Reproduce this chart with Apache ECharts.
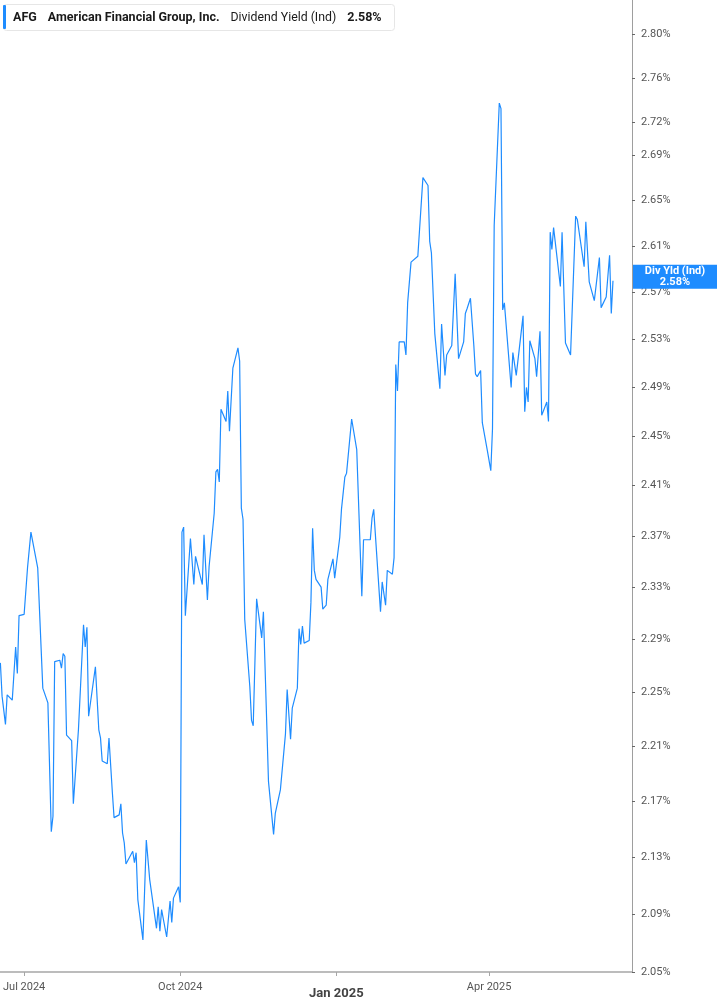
<!DOCTYPE html>
<html>
<head>
<meta charset="utf-8">
<script src="https://cdn.jsdelivr.net/npm/echarts@6/dist/echarts.min.js"></script>
<style>
html,body{margin:0;padding:0;background:#fff;}
#chart{width:717px;height:1005px;}
</style>
</head>
<body>
<div id="chart"></div>
<script>
const ticker = 'AFG';
const company = 'American Financial Group, Inc.';
const metric = 'Dividend Yield (Ind)';
const lastLabel = '2.58%';
const tagLabel = 'Div Yld (Ind)';

const dates = [
'2024-06-17','2024-06-18','2024-06-20','2024-06-21','2024-06-24','2024-06-26','2024-06-27','2024-06-28',
'2024-07-01','2024-07-02','2024-07-03','2024-07-05','2024-07-09','2024-07-12','2024-07-15','2024-07-17',
'2024-07-18','2024-07-19','2024-07-22','2024-07-23','2024-07-24','2024-07-25','2024-07-26','2024-07-29',
'2024-07-30','2024-07-31','2024-08-02','2024-08-05','2024-08-06','2024-08-07','2024-08-08','2024-08-09',
'2024-08-12','2024-08-14','2024-08-15','2024-08-16','2024-08-19','2024-08-20','2024-08-22','2024-08-23',
'2024-08-26','2024-08-27','2024-08-28','2024-08-29','2024-08-30','2024-09-03','2024-09-04','2024-09-05',
'2024-09-06','2024-09-09','2024-09-11','2024-09-13','2024-09-17','2024-09-18','2024-09-19','2024-09-20',
'2024-09-23','2024-09-25','2024-09-26','2024-09-27','2024-09-30','2024-10-01','2024-10-02','2024-10-03',
'2024-10-04','2024-10-07','2024-10-09','2024-10-10','2024-10-11','2024-10-14','2024-10-15','2024-10-16',
'2024-10-17','2024-10-18','2024-10-21','2024-10-22','2024-10-23','2024-10-24','2024-10-25','2024-10-28',
'2024-10-29','2024-10-30','2024-11-01','2024-11-04','2024-11-05','2024-11-06','2024-11-07','2024-11-08',
'2024-11-11','2024-11-12','2024-11-13','2024-11-15','2024-11-18','2024-11-19','2024-11-22','2024-11-25',
'2024-11-26','2024-11-27','2024-11-29','2024-12-02','2024-12-03','2024-12-05','2024-12-06','2024-12-09',
'2024-12-10','2024-12-11','2024-12-12','2024-12-13','2024-12-16','2024-12-17','2024-12-18','2024-12-19',
'2024-12-20','2024-12-23','2024-12-24','2024-12-26','2024-12-27','2024-12-30','2024-12-31','2025-01-03',
'2025-01-04','2025-01-06','2025-01-07','2025-01-08','2025-01-10','2025-01-13','2025-01-16','2025-01-17',
'2025-01-21','2025-01-22','2025-01-23','2025-01-27','2025-01-28','2025-01-30','2025-01-31','2025-02-03',
'2025-02-04','2025-02-05','2025-02-06','2025-02-07','2025-02-10','2025-02-11','2025-02-12','2025-02-14',
'2025-02-18','2025-02-21','2025-02-24','2025-02-25','2025-02-26','2025-02-28','2025-03-03','2025-03-04',
'2025-03-06','2025-03-07','2025-03-10','2025-03-12','2025-03-14','2025-03-17','2025-03-18','2025-03-19',
'2025-03-21','2025-03-23','2025-03-24','2025-03-25','2025-03-27','2025-03-28','2025-03-31','2025-04-02',
'2025-04-03','2025-04-04','2025-04-07','2025-04-08','2025-04-09','2025-04-10','2025-04-14','2025-04-15',
'2025-04-17','2025-04-21','2025-04-22','2025-04-23','2025-04-24','2025-04-25','2025-04-28','2025-04-29',
'2025-05-01','2025-05-02','2025-05-05','2025-05-06','2025-05-07','2025-05-08','2025-05-09','2025-05-13',
'2025-05-14','2025-05-16','2025-05-19','2025-05-22','2025-05-23','2025-05-27','2025-05-28','2025-05-30',
'2025-06-02','2025-06-05','2025-06-06','2025-06-09','2025-06-11','2025-06-12','2025-06-13'
];

const yields = [
2.272,2.247,2.226,2.248,2.244,2.284,2.264,2.308,
2.309,2.309,2.345,2.373,2.345,2.253,2.242,2.148,
2.159,2.273,2.274,2.268,2.279,2.277,2.218,2.214,
2.168,2.168,2.222,2.301,2.284,2.299,2.232,2.231,
2.269,2.222,2.216,2.199,2.197,2.216,2.176,2.158,
2.160,2.168,2.147,2.140,2.125,2.134,2.126,2.133,
2.100,2.072,2.142,2.114,2.080,2.095,2.078,2.093,
2.074,2.099,2.084,2.101,2.109,2.098,2.373,2.377,
2.308,2.368,2.332,2.354,2.353,2.332,2.371,2.371,
2.320,2.346,2.388,2.421,2.423,2.413,2.472,2.462,
2.487,2.454,2.506,2.523,2.512,2.392,2.383,2.305,
2.254,2.229,2.225,2.321,2.291,2.311,2.184,2.146,
2.161,2.162,2.178,2.219,2.252,2.215,2.238,2.253,
2.298,2.286,2.300,2.287,2.289,2.318,2.376,2.343,
2.336,2.330,2.313,2.316,2.336,2.352,2.337,2.369,
2.391,2.417,2.420,2.419,2.464,2.439,2.323,2.367,
2.367,2.384,2.391,2.311,2.334,2.316,2.343,2.340,
2.353,2.509,2.487,2.528,2.528,2.517,2.561,2.596,
2.601,2.670,2.663,2.614,2.604,2.535,2.489,2.543,
2.500,2.517,2.525,2.586,2.514,2.528,2.552,2.556,
2.565,2.525,2.501,2.499,2.504,2.461,2.438,2.422,
2.456,2.628,2.737,2.732,2.555,2.561,2.490,2.519,
2.500,2.550,2.470,2.490,2.478,2.529,2.514,2.499,
2.537,2.467,2.478,2.462,2.622,2.607,2.626,2.575,
2.622,2.527,2.517,2.636,2.633,2.592,2.631,2.579,
2.563,2.600,2.557,2.566,2.602,2.552,2.580
];

const yTicks = [2.05,2.09,2.13,2.17,2.21,2.25,2.29,2.33,2.37,2.41,2.45,2.49,2.53,2.57,2.61,2.65,2.69,2.72,2.76,2.80];
const xTicks = ['2024-07-01','2024-10-01','2025-01-01','2025-04-01'];
const xTickLabels = ['Jul 2024','Oct 2024','Jan 2025','Apr 2025'];
const xRange = ['2024-06-17T00:00:00Z','2025-06-24T05:00:00Z'];
const yRange = [2.05, 2.8325];
const lastValue = 2.58;

const toTime = s => Date.parse(s.length === 10 ? s + 'T00:00:00Z' : s);
const xTickNums = xTicks.map(toTime);

const chart = echarts.init(document.getElementById('chart'), null, {renderer:'canvas'});
const FONT = 'Roboto, "Noto Sans", sans-serif';
const BLUE = '#1e8cff';

chart.setOption({
  animation: false,
  backgroundColor: '#fff',
  textStyle: {fontFamily: FONT},
  grid: {left: 0, right: 85, top: 0, bottom: 33, containLabel: false},
  title: {
    left: 3, top: 4,
    text: '{t|' + ticker + '}{n|' + company + '}{m|' + metric + '}{v|' + lastLabel + '}',
    backgroundColor: '#fff',
    borderColor: '#e6e6e6', borderWidth: 1, borderRadius: 3,
    padding: [7, 13, 7, 10],
    textStyle: {
      fontFamily: FONT,
      rich: {
        t: {fontSize: 12.5, fontWeight: 'bold', color: '#1a1a1a', padding: [0, 11, 0, 0], fontFamily: FONT},
        n: {fontSize: 12.5, fontWeight: 'bold', color: '#1a1a1a', padding: [0, 11, 0, 0], fontFamily: FONT},
        m: {fontSize: 12.3, fontWeight: 'normal', color: '#1a1a1a', padding: [0, 11, 0, 0], fontFamily: FONT},
        v: {fontSize: 12.5, fontWeight: 'bold', color: '#1a1a1a', fontFamily: FONT}
      }
    }
  },
  graphic: [{
    type: 'rect', left: 3, top: 5, z: 100,
    shape: {width: 3, height: 24, r: 1},
    style: {fill: BLUE}
  }],
  xAxis: {
    type: 'value',
    min: toTime(xRange[0]), max: toTime(xRange[1]),
    axisLine: {show: true, lineStyle: {color: '#a6a6a6', width: 1.5}},
    axisTick: {show: true, length: 4, lineStyle: {color: '#a6a6a6', width: 1}, customValues: xTickNums},
    splitLine: {show: false},
    axisLabel: {
      customValues: xTickNums,
      margin: 10,
      color: '#555', fontSize: 11, fontFamily: FONT,
      formatter: function (val) {
        const i = xTickNums.indexOf(val);
        const txt = i >= 0 ? xTickLabels[i] : '';
        return txt === 'Jan 2025' ? '{b|' + txt + '}' : txt;
      },
      rich: {b: {fontSize: 13, fontWeight: 'bold', color: '#444', padding: [5, 0, 0, 0], fontFamily: FONT}}
    }
  },
  yAxis: {
    type: 'log', logBase: 10,
    position: 'right',
    min: yRange[0], max: yRange[1],
    axisLine: {show: true, lineStyle: {color: '#9e9e9e', width: 1}},
    axisTick: {show: true, length: 3, inside: false, lineStyle: {color: '#666'}, customValues: yTicks},
    splitLine: {show: false},
    axisLabel: {
      customValues: yTicks,
      margin: 9,
      color: '#555', fontSize: 11, fontFamily: FONT,
      formatter: v => Number(v).toFixed(2) + '%'
    }
  },
  series: [{
    type: 'line',
    data: dates.map((d, i) => [toTime(d), yields[i]]),
    showSymbol: false,
    symbol: 'none',
    lineStyle: {color: BLUE, width: 1.2},
    itemStyle: {color: BLUE},
    clip: true,
    markLine: {
      silent: true,
      symbol: ['none', 'none'],
      lineStyle: {width: 0, color: 'rgba(0,0,0,0)', type: 'solid'},
      data: [{yAxis: lastValue}],
      label: {
        show: true,
        position: 'end',
        distance: 1,
        offset: [0, -4],
        backgroundColor: BLUE,
        width: 84,
        padding: [1, 0, 1, 0],
        formatter: '{a|' + tagLabel + '}\n{a|' + lastLabel + '}',
        rich: {a: {color: '#fff', fontWeight: 'bold', fontSize: 11, lineHeight: 11, align: 'center', fontFamily: FONT}}
      }
    }
  }]
});
</script>
</body>
</html>
